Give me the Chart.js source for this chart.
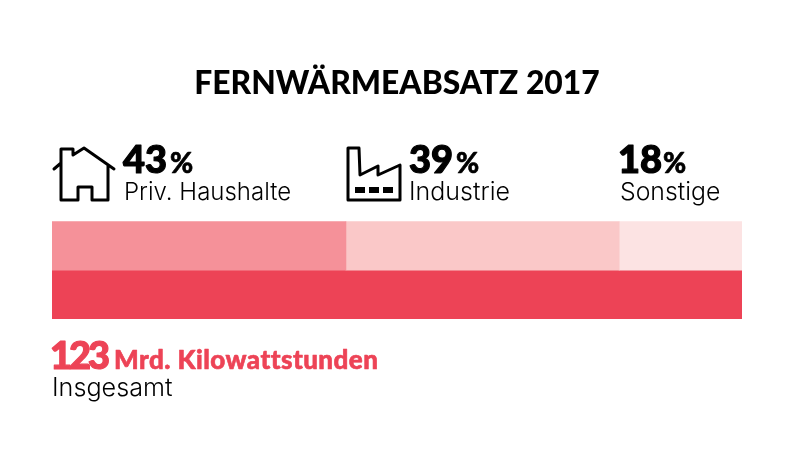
<!DOCTYPE html>
<html lang="de">
<head>
<meta charset="utf-8">
<title>Fernwärmeabsatz 2017</title>
<style>
	html, body { margin: 0; padding: 0; background: #fff; }
	#wrap { position: relative; width: 800px; height: 464px; }
</style>
<script src="https://cdn.jsdelivr.net/npm/chart.js@4"></script>
</head>
<body>
<div id="wrap"><canvas id="absatzChart" width="800" height="464"></canvas></div>
<script>
const chartTitle = 'FERNWÄRMEABSATZ 2017';
const rows = ['Anteile', 'Insgesamt'];
const sectors = ['Priv. Haushalte', 'Industrie', 'Sonstige'];
const percentLabels = ['43', '39', '18'];
// bar lengths as measured in the picture, in % of the total
const haushalte = [42.6, null];
const industrie = [39.6, null];
const sonstige = [17.8, null];
const insgesamt = [null, 100];
const totalValue = '123';
const totalUnit = 'Mrd. Kilowattstunden';
const totalLabel = 'Insgesamt';

const RED = '#ed4356';
const FONT = 'Lato, sans-serif';
const THIN = 'Inter, sans-serif';

function drawHouse(c) {
	c.beginPath();
	c.moveTo(54, 169);
	c.lineTo(61, 163);
	c.lineTo(61, 149);
	c.lineTo(73, 149);
	c.lineTo(73, 155);
	c.lineTo(84, 148);
	c.lineTo(114, 169);
	c.moveTo(61, 163);
	c.lineTo(61, 200);
	c.lineTo(78, 200);
	c.lineTo(78, 187);
	c.lineTo(92, 187);
	c.lineTo(92, 200);
	c.lineTo(108, 200);
	c.lineTo(108, 165);
	c.stroke();
}

function drawFactory(c) {
	c.beginPath();
	c.moveTo(348, 200);
	c.lineTo(348, 148);
	c.lineTo(359, 148);
	c.lineTo(360, 175);
	c.lineTo(378, 166);
	c.lineTo(378, 175);
	c.lineTo(400, 165);
	c.lineTo(400, 200);
	c.closePath();
	c.stroke();
	c.fillRect(355, 187, 10, 6);
	c.fillRect(369, 187, 10, 6);
	c.fillRect(383, 187, 10, 6);
}

// Lato has no black cut here, a thin outline makes the bold heavier
function heavyText(c, text, x, y, weight) {
	c.lineWidth = weight;
	c.strokeStyle = c.fillStyle;
	c.strokeText(text, x, y);
	c.fillText(text, x, y);
}

const textPlugin = {
	id: 'textPlugin',
	afterDraw(chart) {
		const c = chart.ctx;
		c.save();
		c.textBaseline = 'alphabetic';
		c.textAlign = 'left';
		c.fillStyle = '#000';
		c.strokeStyle = '#000';
		c.lineWidth = 3;
		c.lineJoin = 'round';
		c.lineCap = 'round';
		drawHouse(c);
		drawFactory(c);

		const xNum = [123, 409, 618];
		const xPct = [170, 456, 663];
		const xName = [124, 409, 620];
		const nameSize = [24, 25, 24.8];
		for (let i = 0; i < sectors.length; i++) {
			c.font = '900 38px ' + FONT;
			heavyText(c, percentLabels[i], xNum[i], 173, 1.2);
			c.font = '900 28px ' + FONT;
			heavyText(c, '%', xPct[i], 173, 0.6);
			c.font = '300 ' + nameSize[i] + 'px ' + THIN;
			c.fillText(sectors[i], xName[i], 200);
		}

		c.fillStyle = RED;
		c.font = '900 38px ' + FONT;
		c.letterSpacing = '-3px';
		heavyText(c, totalValue, 50, 369, 1.2);
		c.font = '900 26px ' + FONT;
		c.letterSpacing = '0.45px';
		heavyText(c, totalUnit, 114, 369, 0.6);
		c.letterSpacing = '0px';
		c.fillStyle = '#000';
		c.font = '300 25.2px ' + THIN;
		c.fillText(totalLabel, 52, 396);
		c.restore();
	},
};

const ctx = document.getElementById('absatzChart').getContext('2d');
new Chart(ctx, {
	type: 'bar',
	data: {
		labels: rows,
		datasets: [
			{ label: sectors[0], data: haushalte, backgroundColor: '#f59199' },
			{ label: sectors[1], data: industrie, backgroundColor: '#fac8c8' },
			{ label: sectors[2], data: sonstige, backgroundColor: '#fce3e3' },
			{ label: totalLabel, data: insgesamt, backgroundColor: RED },
		],
	},
	options: {
		indexAxis: 'y',
		responsive: false,
		animation: false,
		datasets: { bar: { barPercentage: 1, categoryPercentage: 1, borderWidth: 0 } },
		layout: { padding: { left: 52, right: 58, top: 65, bottom: 145 } },
		plugins: {
			legend: { display: false },
			tooltip: { enabled: false },
			title: {
				display: true,
				text: chartTitle,
				color: '#000',
				font: { family: FONT, size: 31.8, weight: '900' },
				padding: { top: 0, bottom: 118 },
			},
		},
		scales: {
			x: { stacked: true, min: 0, max: 100, display: false },
			y: { stacked: true, display: false },
		},
	},
	plugins: [textPlugin],
});
</script>
</body>
</html>
